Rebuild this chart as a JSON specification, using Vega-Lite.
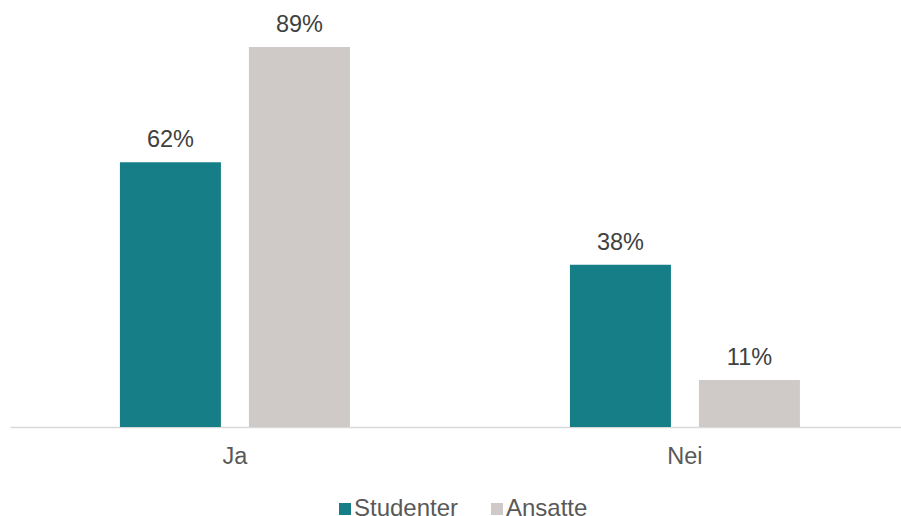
{
  "$schema": "https://vega.github.io/schema/vega-lite/v6.json",
  "autosize": {"type": "none"},
  "padding": {"left": 10, "top": 0, "right": 0, "bottom": 89},
  "width": 891,
  "height": 427,
  "background": "white",
  "config": {
    "view": {"stroke": null},
    "font": "Liberation Sans"
  },
  "data": {
    "values": [
      {"svar": "Ja", "gruppe": "Studenter", "andel": 0.62},
      {"svar": "Ja", "gruppe": "Ansatte", "andel": 0.89},
      {"svar": "Nei", "gruppe": "Studenter", "andel": 0.38},
      {"svar": "Nei", "gruppe": "Ansatte", "andel": 0.11}
    ]
  },
  "encoding": {
    "x": {
      "field": "svar", "type": "nominal", "sort": ["Ja", "Nei"],
      "scale": {"paddingInner": 0.4889, "paddingOuter": 0.2344, "align": 0.521},
      "axis": {
        "title": null, "labelAngle": 0, "ticks": false,
        "domainColor": "#d9d9d9", "domainWidth": 1.5,
        "labelFont": "Liberation Sans", "labelFontSize": 23.5,
        "labelColor": "#595959", "labelPadding": 17
      }
    },
    "xOffset": {
      "field": "gruppe", "type": "nominal", "sort": ["Studenter", "Ansatte"],
      "scale": {"paddingInner": 0.217, "paddingOuter": 0}
    },
    "y": {
      "field": "andel", "type": "quantitative",
      "scale": {"domain": [0, 1], "nice": false},
      "axis": null
    }
  },
  "layer": [
    {
      "mark": {"type": "bar"},
      "encoding": {
        "color": {
          "field": "gruppe", "type": "nominal", "sort": ["Studenter", "Ansatte"],
          "scale": {"domain": ["Studenter", "Ansatte"], "range": ["#157E86", "#CFCAC7"]},
          "legend": {
            "title": null, "orient": "none", "direction": "horizontal",
            "legendX": 323, "legendY": 497, "padding": 0,
            "symbolType": "square", "symbolSize": 144, "symbolStrokeWidth": 0,
            "labelFont": "Liberation Sans", "labelFontSize": 24,
            "labelColor": "#595959", "labelOffset": -3, "columnPadding": 26
          }
        }
      }
    },
    {
      "mark": {
        "type": "text", "baseline": "alphabetic", "dy": -15,
        "font": "Liberation Sans", "fontSize": 23.5, "color": "#404040"
      },
      "encoding": {
        "text": {"field": "andel", "type": "quantitative", "format": ".0%"}
      }
    }
  ]
}
